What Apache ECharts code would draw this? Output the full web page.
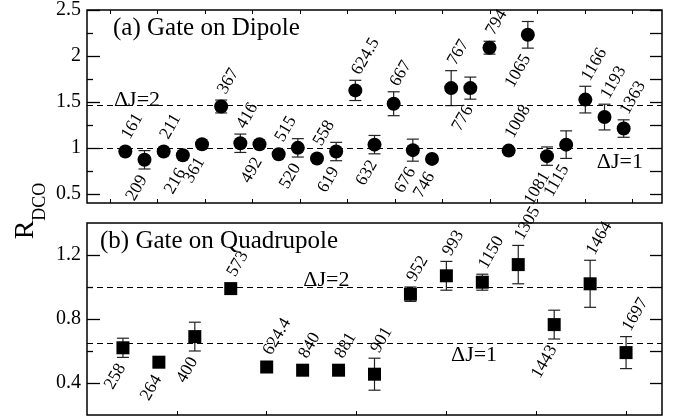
<!DOCTYPE html>
<html>
<head>
<meta charset="utf-8">
<script src="https://cdn.jsdelivr.net/npm/echarts@6/dist/echarts.min.js"></script>
<style>
  html, body { margin: 0; background: #fff; }
  #chart { width: 680px; height: 419px; }
</style>
</head>
<body>
<div id="chart"></div>
<script>
// (a) gate on dipole
const dipLabels = ['161', '209', '211', '216', '361', '367', '416', '492', '515', '520', '558', '619', '624.5', '632',
    '667', '676', '746', '767', '776', '794', '1008', '1065', '1081', '1115', '1166', '1193', '1363'];
const dipValues = [0.96, 0.87, 0.96, 0.92, 1.04, 1.45, 1.05, 1.04, 0.93, 1.0, 0.885, 0.96, 1.625, 1.035,
    1.48, 0.975, 0.88, 1.65, 1.65, 2.09, 0.97, 2.23, 0.91, 1.035, 1.525, 1.335, 1.21];
const dipErrors = [0, 0.1, 0, 0, 0, 0.07, 0.1, 0, 0, 0.1, 0, 0.1, 0.11, 0.1,
    0.13, 0.12, 0, 0.19, 0.12, 0.07, 0, 0.145, 0.1, 0.15, 0.145, 0.14, 0.095];
const dipSide = ['u', 'd', 'u', 'd', 'd', 'u', 'u', 'd', 'u', 'd', 'u', 'd', 'u', 'd',
    'u', 'd', 'd', 'u', 'd', 'u', 'u', 'd', 'd', 'd', 'u', 'u', 'u'];
const dipRefLines = [1.46, 1.0];

// (b) gate on quadrupole
const quadLabels = ['258', '264', '400', '573', '624.4', '840', '881', '901', '952', '993', '1150', '1305', '1443', '1464', '1697'];
const quadValues = [0.62, 0.53, 0.69, 0.99, 0.50, 0.48, 0.48, 0.455, 0.955, 1.07, 1.03, 1.14, 0.765, 1.02, 0.59];
const quadErrors = [0.06, 0, 0.09, 0, 0, 0, 0, 0.1, 0.045, 0.09, 0.05, 0.12, 0.09, 0.147, 0.1];
const quadSide = ['d', 'd', 'd', 'u', 'u', 'u', 'u', 'u', 'u', 'u', 'u', 'u', 'd', 'u', 'u'];
const quadRefLines = [1.0, 0.65];

// tick values
const dipMajor = [0.5, 1, 1.5, 2, 2.5];
const dipMinor = [0.75, 1.25, 1.75, 2.25];
const dipRight = [0.5, 0.75, 1, 1.25, 1.5, 1.75, 2, 2.25, 2.5];
const quadMajor = [0.4, 0.8, 1.2];
const quadMinor = [0.6, 1.0];
const quadRight = [0.4, 0.6, 0.8, 1.0, 1.2];
const dipXTicks = [-0.81, 1.67, 4.15, 6.62, 9.1, 11.58, 14.06, 16.54, 19.02, 21.49, 23.97, 26.45];
const quadXTicks = [1.5, 4, 6.5, 9, 11.5, 14];

const FONT = '"Liberation Serif", "Times New Roman", serif';

// label sits just past the marker or the error bar end, whichever is further
function pointData(labels, values, side, gaps) {
    return values.map((v, i) => {
        const up = side[i] === 'u';
        return {
            name: labels[i],
            value: [i, v],
            label: {
                position: up ? 'top' : 'bottom',
                align: up ? 'left' : 'right',
                verticalAlign: 'middle',
                distance: gaps ? gaps[i] : 6,
                offset: up ? [1, 0] : [-2, 0]
            }
        };
    });
}

function errorData(values, errors) {
    return values.map((v, i) => [i, v, errors[i]]);
}

function errorBarItem(params, api) {
    const e = api.value(2);
    if (!e) return null;
    const x = api.value(0), y = api.value(1);
    const top = api.coord([x, y + e]);
    const bot = api.coord([x, y - e]);
    const hw = 6;
    const style = { stroke: '#222', lineWidth: 1.2 };
    return {
        type: 'group',
        children: [
            { type: 'line', shape: { x1: top[0], y1: top[1], x2: bot[0], y2: bot[1] }, style: style },
            { type: 'line', shape: { x1: top[0] - hw, y1: top[1], x2: top[0] + hw, y2: top[1] }, style: style },
            { type: 'line', shape: { x1: bot[0] - hw, y1: bot[1], x2: bot[0] + hw, y2: bot[1] }, style: style }
        ]
    };
}

function refLines(vals) {
    return {
        symbol: 'none',
        silent: true,
        label: { show: false },
        lineStyle: { color: '#000', type: [6, 4], width: 1 },
        data: vals.map(v => ({ yAxis: v }))
    };
}

function annotations(items) {
    return {
        symbol: 'circle',
        symbolSize: 1,
        silent: true,
        itemStyle: { color: 'transparent' },
        label: {
            show: true, position: 'inside', formatter: p => p.name,
            fontFamily: FONT, fontSize: 22, color: '#000'
        },
        data: items
    };
}

function yAxis(gridIndex, min, max, position, ticks, len, labels) {
    return {
        gridIndex: gridIndex, type: 'value', min: min, max: max, position: position,
        axisLine: { show: false, onZero: false },
        splitLine: { show: false },
        axisTick: { show: true, inside: true, length: len, customValues: ticks, lineStyle: { color: '#000', width: 1.3 } },
        axisLabel: labels
            ? { show: true, customValues: ticks, margin: 6, fontFamily: FONT, fontSize: 20, color: '#000' }
            : { show: false }
    };
}

function xAxis(gridIndex, min, max, position, ticks) {
    return {
        gridIndex: gridIndex, type: 'value', min: min, max: max, position: position,
        axisLine: { show: false, onZero: false },
        splitLine: { show: false },
        axisTick: { show: !!ticks, inside: true, length: 4, customValues: ticks || [], lineStyle: { color: '#000', width: 1 } },
        axisLabel: { show: false }
    };
}

const pointLabel = {
    show: true,
    formatter: p => p.name,
    rotate: 60,
    fontFamily: FONT,
    fontSize: 17.5,
    color: '#000'
};

const chart = echarts.init(document.getElementById('chart'));

const gridA = { left: 87, right: 18, top: 10, height: 193 };
const gridB = { left: 87, right: 18, top: 223, height: 192 };

const option = {
    backgroundColor: '#fff',
    animation: false,
    title: [
        { text: '(a) Gate on Dipole', left: 108, top: 11,
          textStyle: { fontFamily: FONT, fontSize: 25, fontWeight: 'normal', color: '#000' } },
        { text: '(b) Gate on Quadrupole', left: 95, top: 224,
          textStyle: { fontFamily: FONT, fontSize: 25, fontWeight: 'normal', color: '#000' } }
    ],
    grid: [
        Object.assign({ show: true, borderColor: '#000', borderWidth: 1.5 }, gridA),
        Object.assign({ show: true, borderColor: '#000', borderWidth: 1.5 }, gridB),
        // overlay grids only carry the short minor ticks on the left
        Object.assign({ show: false }, gridA),
        Object.assign({ show: false }, gridB)
    ],
    xAxis: [
        xAxis(0, -2, 28, 'bottom', dipXTicks),
        xAxis(0, -2, 28, 'top', dipXTicks),
        xAxis(1, -1, 15, 'bottom', quadXTicks),
        xAxis(2, -2, 28, 'bottom', null),
        xAxis(3, -1, 15, 'bottom', null)
    ],
    yAxis: [
        yAxis(0, 0.4, 2.5, 'left', dipMajor, 13, true),
        yAxis(0, 0.4, 2.5, 'right', dipRight, 12, false),
        yAxis(1, 0.2, 1.4, 'left', quadMajor, 13, true),
        yAxis(1, 0.2, 1.4, 'right', quadRight, 12, false),
        yAxis(2, 0.4, 2.5, 'left', dipMinor, 6, false),
        yAxis(3, 0.2, 1.4, 'left', quadMinor, 6, false)
    ],
    graphic: [{
        type: 'text',
        x: 26, y: 211,
        rotation: Math.PI / 2,
        style: {
            text: '{r|R}{s|DCO}',
            align: 'center',
            verticalAlign: 'middle',
            rich: {
                r: { fontFamily: FONT, fontSize: 28, lineHeight: 28, verticalAlign: 'top', fill: '#000' },
                s: { fontFamily: FONT, fontSize: 18, lineHeight: 18, verticalAlign: 'top', padding: [19, 0, 0, 0], fill: '#000' }
            }
        }
    }],
    series: [
        {
            id: 'errA', type: 'custom', xAxisIndex: 0, yAxisIndex: 0,
            renderItem: errorBarItem,
            data: errorData(dipValues, dipErrors),
            z: 2
        },
        {
            id: 'ptsA', type: 'scatter', xAxisIndex: 0, yAxisIndex: 0,
            symbol: 'circle', symbolSize: 14,
            itemStyle: { color: '#000', opacity: 1 },
            label: pointLabel,
            data: pointData(dipLabels, dipValues, dipSide),
            markLine: refLines(dipRefLines),
            markPoint: annotations([
                { name: 'ΔJ=2', coord: [0.61, 1.52] },
                { name: 'ΔJ=1', coord: [25.8, 0.846] }
            ]),
            z: 3
        },
        {
            id: 'errB', type: 'custom', xAxisIndex: 2, yAxisIndex: 2,
            renderItem: errorBarItem,
            data: errorData(quadValues, quadErrors),
            z: 2
        },
        {
            id: 'ptsB', type: 'scatter', xAxisIndex: 2, yAxisIndex: 2,
            symbol: 'rect', symbolSize: 13,
            itemStyle: { color: '#000', opacity: 1 },
            label: pointLabel,
            data: pointData(quadLabels, quadValues, quadSide),
            markLine: refLines(quadRefLines),
            markPoint: annotations([
                { name: 'ΔJ=2', coord: [5.66, 1.041] },
                { name: 'ΔJ=1', coord: [9.77, 0.574] }
            ]),
            z: 3
        }
    ]
};

chart.setOption(option);

// push labels clear of the error bars
function labelGaps(seriesId, values, errors, half) {
    return values.map((v, i) => {
        const p0 = chart.convertToPixel({ seriesId: seriesId }, [i, v]);
        const p1 = chart.convertToPixel({ seriesId: seriesId }, [i, v + errors[i]]);
        const errPx = Math.abs(p0[1] - p1[1]);
        return Math.max(0, errPx - half) + 6;
    });
}

chart.setOption({
    series: [
        { id: 'ptsA', data: pointData(dipLabels, dipValues, dipSide, labelGaps('ptsA', dipValues, dipErrors, 7)) },
        { id: 'ptsB', data: pointData(quadLabels, quadValues, quadSide, labelGaps('ptsB', quadValues, quadErrors, 6.5)) }
    ]
});
</script>
</body>
</html>
